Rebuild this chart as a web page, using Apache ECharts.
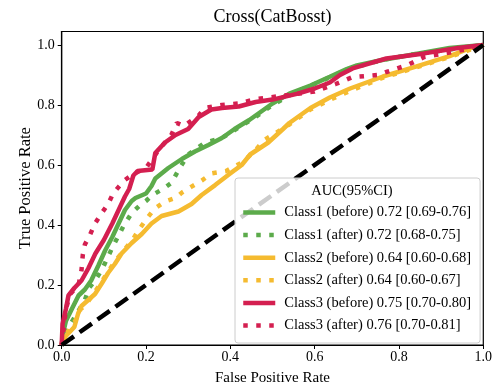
<!DOCTYPE html>
<html>
<head>
<meta charset="utf-8">
<script src="https://cdn.jsdelivr.net/npm/echarts@6/dist/echarts.min.js"></script>
<style>html,body{margin:0;padding:0;background:#fff}#c{width:497px;height:391px}</style>
</head>
<body>
<div id="c"></div>
<script>
var titleText = 'Cross(CatBosst)';
var xAxisName = 'False Positive Rate';
var yAxisName = 'True Positive Rate';
var legendTitle = 'AUC(95%CI)';
var tickValues = [0, 0.2, 0.4, 0.6, 0.8, 1.0];

var seriesNames = [
  'Class1 (before) 0.72 [0.69-0.76]',
  'Class1 (after) 0.72 [0.68-0.75]',
  'Class2 (before) 0.64 [0.60-0.68]',
  'Class2 (after) 0.64 [0.60-0.67]',
  'Class3 (before) 0.75 [0.70-0.80]',
  'Class3 (after) 0.76 [0.70-0.81]'
];

var class1Before = [[0,0],[0.005,0.05],[0.01,0.08],[0.024,0.12],[0.04,0.165],[0.055,0.185],[0.07,0.215],[0.087,0.265],[0.103,0.315],[0.12,0.36],[0.135,0.405],[0.15,0.45],[0.166,0.48],[0.175,0.49],[0.2,0.505],[0.213,0.53],[0.222,0.555],[0.253,0.59],[0.285,0.62],[0.316,0.645],[0.348,0.667],[0.38,0.69],[0.41,0.72],[0.445,0.75],[0.475,0.78],[0.5,0.805],[0.54,0.838],[0.59,0.865],[0.636,0.894],[0.676,0.92],[0.70,0.932],[0.76,0.95],[0.84,0.97],[0.92,0.99],[1,1]];
var class1After = [[0,0],[0.008,0.05],[0.016,0.06],[0.032,0.095],[0.055,0.15],[0.065,0.19],[0.079,0.215],[0.095,0.25],[0.11,0.295],[0.122,0.33],[0.135,0.365],[0.146,0.395],[0.166,0.44],[0.185,0.465],[0.2,0.48],[0.215,0.5],[0.24,0.52],[0.26,0.54],[0.28,0.59],[0.30,0.635],[0.32,0.655],[0.34,0.675],[0.38,0.69],[0.42,0.725],[0.46,0.76],[0.5,0.80],[0.55,0.84],[0.6,0.87],[0.64,0.895],[0.68,0.92],[0.76,0.95],[0.84,0.97],[0.92,0.985],[1,1]];
var class2Before = [[0,0],[0.01,0.03],[0.03,0.06],[0.039,0.105],[0.047,0.13],[0.063,0.15],[0.079,0.17],[0.095,0.205],[0.11,0.24],[0.126,0.27],[0.142,0.305],[0.166,0.34],[0.19,0.37],[0.213,0.405],[0.237,0.43],[0.277,0.445],[0.308,0.47],[0.332,0.50],[0.364,0.533],[0.395,0.567],[0.427,0.60],[0.447,0.635],[0.49,0.675],[0.525,0.72],[0.54,0.74],[0.59,0.79],[0.636,0.825],[0.684,0.855],[0.762,0.895],[0.84,0.928],[0.92,0.963],[0.97,0.99],[1,1]];
var class2After = [[0,0],[0.01,0.035],[0.032,0.08],[0.045,0.12],[0.055,0.13],[0.07,0.16],[0.09,0.2],[0.11,0.245],[0.13,0.285],[0.15,0.32],[0.17,0.355],[0.186,0.39],[0.201,0.42],[0.221,0.455],[0.245,0.478],[0.27,0.49],[0.285,0.508],[0.308,0.528],[0.332,0.548],[0.356,0.572],[0.39,0.58],[0.43,0.61],[0.46,0.65],[0.48,0.683],[0.5,0.70],[0.54,0.735],[0.59,0.785],[0.64,0.82],[0.69,0.85],[0.76,0.89],[0.84,0.925],[0.92,0.96],[1,1]];
var class3Before = [[0,0],[0.002,0.07],[0.01,0.12],[0.016,0.165],[0.03,0.19],[0.047,0.215],[0.063,0.255],[0.08,0.305],[0.1,0.35],[0.12,0.405],[0.135,0.45],[0.15,0.495],[0.16,0.52],[0.17,0.565],[0.18,0.58],[0.215,0.585],[0.222,0.64],[0.245,0.675],[0.27,0.70],[0.30,0.72],[0.325,0.76],[0.355,0.785],[0.38,0.79],[0.42,0.795],[0.46,0.81],[0.50,0.818],[0.56,0.838],[0.60,0.855],[0.636,0.875],[0.66,0.90],[0.69,0.922],[0.77,0.955],[0.86,0.972],[0.94,0.99],[1,1]];
var class3After = [[0,0],[0.01,0.12],[0.02,0.17],[0.04,0.2],[0.047,0.25],[0.05,0.30],[0.055,0.335],[0.067,0.367],[0.079,0.405],[0.095,0.44],[0.11,0.47],[0.122,0.505],[0.14,0.535],[0.15,0.55],[0.17,0.57],[0.2,0.59],[0.23,0.65],[0.26,0.70],[0.273,0.74],[0.29,0.73],[0.31,0.75],[0.325,0.765],[0.34,0.79],[0.38,0.80],[0.42,0.805],[0.46,0.82],[0.52,0.83],[0.6,0.845],[0.65,0.87],[0.69,0.893],[0.75,0.90],[0.77,0.91],[0.82,0.933],[0.86,0.96],[0.91,0.972],[0.95,0.983],[1,1]];
var diagonal = [[0,0],[1,1]];

var curves = [class1Before, class1After, class2Before, class2After, class3Before, class3After];
var colors = ['#5cab4b', '#5cab4b', '#f5bb30', '#f5bb30', '#d41f50', '#d41f50'];
var dotted = [false, true, false, true, false, true];

var FONT = 'Liberation Serif';
var LW = 4.5;
var DOT = [4.5, 8.5];

var series = curves.map(function (d, i) {
  return {
    name: seriesNames[i],
    type: 'line',
    data: d,
    symbol: 'none',
    showSymbol: false,
    smooth: false,
    z: 2,
    lineStyle: {color: colors[i], width: LW, type: dotted[i] ? DOT : 'solid', cap: 'butt'},
    itemStyle: {color: colors[i]},
    emphasis: {disabled: true},
    animation: false
  };
});
series.push({
  name: 'chance',
  type: 'line',
  data: diagonal,
  symbol: 'none',
  z: 3,
  lineStyle: {color: '#000', width: 4.5, type: [15, 7], cap: 'butt'},
  emphasis: {disabled: true},
  animation: false
});

var legendData = seriesNames.map(function (n, i) {
  return {
    name: n,
    lineStyle: {color: colors[i], width: LW, type: dotted[i] ? DOT : 'solid', cap: 'butt'},
    itemStyle: {opacity: 0}
  };
});

var chart = echarts.init(document.getElementById('c'), null, {renderer: 'canvas'});
chart.setOption({
  animation: false,
  backgroundColor: '#fff',
  textStyle: {fontFamily: FONT},
  title: [
    {text: titleText, left: 267.5, top: 3, textAlign: 'center',
     textStyle: {fontFamily: FONT, fontSize: 18, fontWeight: 'normal', color: '#000'}},
    {text: legendTitle, left: 347, top: 179, textAlign: 'center', z: 10,
     textStyle: {fontFamily: FONT, fontSize: 14.5, fontWeight: 'normal', color: '#000'}}
  ],
  grid: {left: 61.7, right: 13.7, top: 31.5, bottom: 46, show: true, borderColor: '#000', borderWidth: 1.2, containLabel: false},
  xAxis: {
    type: 'value', min: 0, max: 1, interval: 0.2,
    name: xAxisName, nameLocation: 'middle', nameGap: 26, nameMoveOverlap: false,
    nameTextStyle: {fontFamily: FONT, fontSize: 15, color: '#000'},
    axisLine: {show: true, onZero: false, lineStyle: {color: '#000', width: 1.2}},
    axisTick: {show: true, length: 4, lineStyle: {color: '#000'}},
    axisLabel: {fontFamily: FONT, fontSize: 14, color: '#000', margin: 5,
      formatter: function (v) { return v.toFixed(1); }},
    splitLine: {show: false}
  },
  yAxis: {
    type: 'value', min: 0, max: 1.045, interval: 0.2,
    name: yAxisName, nameLocation: 'middle', nameGap: 28, nameRotate: 90, nameMoveOverlap: false,
    nameTextStyle: {fontFamily: FONT, fontSize: 16.5, color: '#000'},
    axisLine: {show: true, onZero: false, lineStyle: {color: '#000', width: 1.2}},
    axisTick: {show: true, length: 4, lineStyle: {color: '#000'}, customValues: tickValues},
    axisLabel: {fontFamily: FONT, fontSize: 14, color: '#000', margin: 7, customValues: tickValues,
      formatter: function (v) { return v > 1.001 ? '' : v.toFixed(1); }},
    splitLine: {show: false}
  },
  legend: {
    show: true,
    data: legendData,
    orient: 'vertical',
    left: 235, top: 178,
    padding: [27, 9, 10, 6],
    itemWidth: 32, itemHeight: 14, itemGap: 7.6,
    selectedMode: false,
    backgroundColor: 'rgba(255,255,255,0.8)',
    borderColor: '#cccccc', borderWidth: 1, borderRadius: 3,
    textStyle: {fontFamily: FONT, fontSize: 14.5, lineHeight: 14, color: '#000', padding: [0, 0, 0, 4]},
    z: 5
  },
  series: series
});
</script>
</body>
</html>
